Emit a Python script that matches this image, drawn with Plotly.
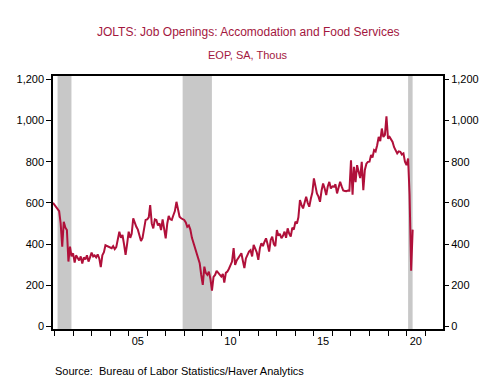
import plotly.graph_objects as go
import pandas as pd

# ---- data (thousands, monthly, Dec 2000 - May 2020) ----
start_month = "2000-12-01"
v2000 = [600]
v2001 = [590, 575, 570, 560, 500, 387, 508, 480, 468, 315, 387, 340]
v2002 = [355, 310, 345, 330, 320, 340, 305, 335, 325, 345, 315, 335]
v2003 = [358, 340, 345, 335, 350, 330, 288, 345, 360, 394, 390, 385]
v2004 = [385, 380, 390, 375, 385, 420, 460, 430, 444, 400, 347, 400]
v2005 = [460, 430, 450, 525, 500, 484, 470, 440, 415, 430, 480, 517]
v2006 = [520, 530, 589, 500, 476, 520, 517, 490, 500, 468, 520, 480]
v2007 = [428, 500, 536, 520, 517, 540, 560, 605, 560, 533, 525, 520]
v2008 = [517, 505, 484, 490, 470, 430, 404, 380, 355, 330, 307, 250]
v2009 = [202, 290, 260, 250, 266, 230, 174, 240, 250, 270, 262, 250]
v2010 = [242, 255, 213, 260, 266, 280, 300, 315, 380, 299, 320, 330]
v2011 = [339, 355, 320, 283, 330, 350, 363, 370, 340, 396, 380, 360]
v2012 = [323, 380, 404, 390, 410, 428, 400, 363, 420, 436, 400, 390]
v2013 = [468, 440, 450, 428, 440, 460, 430, 476, 450, 436, 480, 470]
v2014 = [508, 500, 530, 614, 590, 573, 600, 630, 600, 581, 620, 650]
v2015 = [719, 680, 646, 630, 605, 660, 694, 670, 638, 680, 702, 670]
v2016 = [680, 678, 690, 646, 670, 702, 680, 660, 658, 657, 660, 659]
v2017 = [807, 640, 775, 700, 783, 751, 720, 799, 662, 760, 790, 799]
v2018 = [800, 832, 820, 856, 850, 880, 920, 900, 961, 920, 930, 1020]
v2019 = [912, 920, 905, 896, 870, 855, 840, 850, 848, 835, 840, 800]
v2020 = [783, 815, 640, 270, 470]

recession_starts = ["2001-03-01", "2007-12-01", "2020-02-01"]
recession_ends = ["2001-11-30", "2009-06-30", "2020-04-30"]

year_ticks = [f"{y}-01-01" for y in range(2001, 2023)]
label_positions = ["2005-07-01", "2010-07-01", "2015-07-01", "2020-07-01"]
label_text = ["05", "10", "15", "20"]
y_ticks = [0, 200, 400, 600, 800, 1000, 1200]

values = (v2000 + v2001 + v2002 + v2003 + v2004 + v2005 + v2006 + v2007 + v2008
          + v2009 + v2010 + v2011 + v2012 + v2013 + v2014 + v2015 + v2016
          + v2017 + v2018 + v2019 + v2020)
dates = pd.date_range(start_month, periods=len(values), freq="MS")

LINE = "#b0103a"
TITLE = "#a3173e"
FONT = "Arial, Liberation Sans, sans-serif"
x_range = ["2000-12-01", "2021-12-20"]
y_range = [-12.6, 1216]

fig = go.Figure()
fig.add_trace(go.Scatter(x=dates, y=values, mode="lines",
                         line=dict(color=LINE, width=2), showlegend=False,
                         hoverinfo="skip"))
# invisible trace to activate the right axis
fig.add_trace(go.Scatter(x=[dates[0]], y=[values[0]], yaxis="y2", xaxis="x2",
                         mode="markers", marker=dict(opacity=0),
                         showlegend=False, hoverinfo="skip"))

for s, e in zip(recession_starts, recession_ends):
    fig.add_shape(type="rect", xref="x", yref="paper", x0=s, x1=e, y0=0, y1=1,
                  fillcolor="#c8c8c8", line_width=0, layer="below")

fig.update_layout(
    width=495, height=378,
    margin=dict(l=53, r=52, t=76, b=49),
    paper_bgcolor="white", plot_bgcolor="white",
    font=dict(family=FONT, size=11, color="black"),
    xaxis=dict(range=x_range, type="date", tickvals=year_ticks,
               ticktext=[""] * len(year_ticks), ticks="outside", ticklen=5,
               tickcolor="black", tickwidth=1, showgrid=False,
               showline=True, linecolor="black", linewidth=1.5, mirror=True,
               zeroline=False),
    xaxis2=dict(range=x_range, type="date", overlaying="x", anchor="y",
                side="bottom", tickvals=label_positions, ticktext=label_text,
                ticks="outside", ticklen=2, tickcolor="rgba(0,0,0,0)",
                showgrid=False, showline=False, zeroline=False,
                tickfont=dict(size=11)),
    yaxis=dict(range=y_range, tickvals=y_ticks, tickformat=",d",
               ticks="outside", ticklen=5, tickcolor="black", showgrid=False,
               showline=True, linecolor="black", linewidth=1.5, mirror=True,
               zeroline=False, tickfont=dict(size=11)),
    yaxis2=dict(range=y_range, tickvals=y_ticks, tickformat=",d",
                overlaying="y", side="right", anchor="x",
                ticks="outside", ticklen=5, tickcolor="black", showgrid=False,
                showline=False, zeroline=False, tickfont=dict(size=11)),
)

fig.add_annotation(text="JOLTS: Job Openings: Accomodation and Food Services",
                   xref="paper", yref="paper", x=0.5, y=1, yshift=44,
                   showarrow=False, font=dict(size=12, color=TITLE),
                   xanchor="center", yanchor="middle")
fig.add_annotation(text="EOP, SA, Thous",
                   xref="paper", yref="paper", x=0.5, y=1, yshift=21,
                   showarrow=False, font=dict(size=11, color=TITLE),
                   xanchor="center", yanchor="middle")
fig.add_annotation(text="Source:  Bureau of Labor Statistics/Haver Analytics",
                   xref="paper", yref="paper", x=0, y=0, yshift=-42,
                   xshift=0, showarrow=False, font=dict(size=11, color="black"),
                   xanchor="left", yanchor="middle")

fig.write_html("out.html", config={"displayModeBar": False},
               post_script="document.body.style.margin='0';"
                           "document.body.style.padding='0';")
